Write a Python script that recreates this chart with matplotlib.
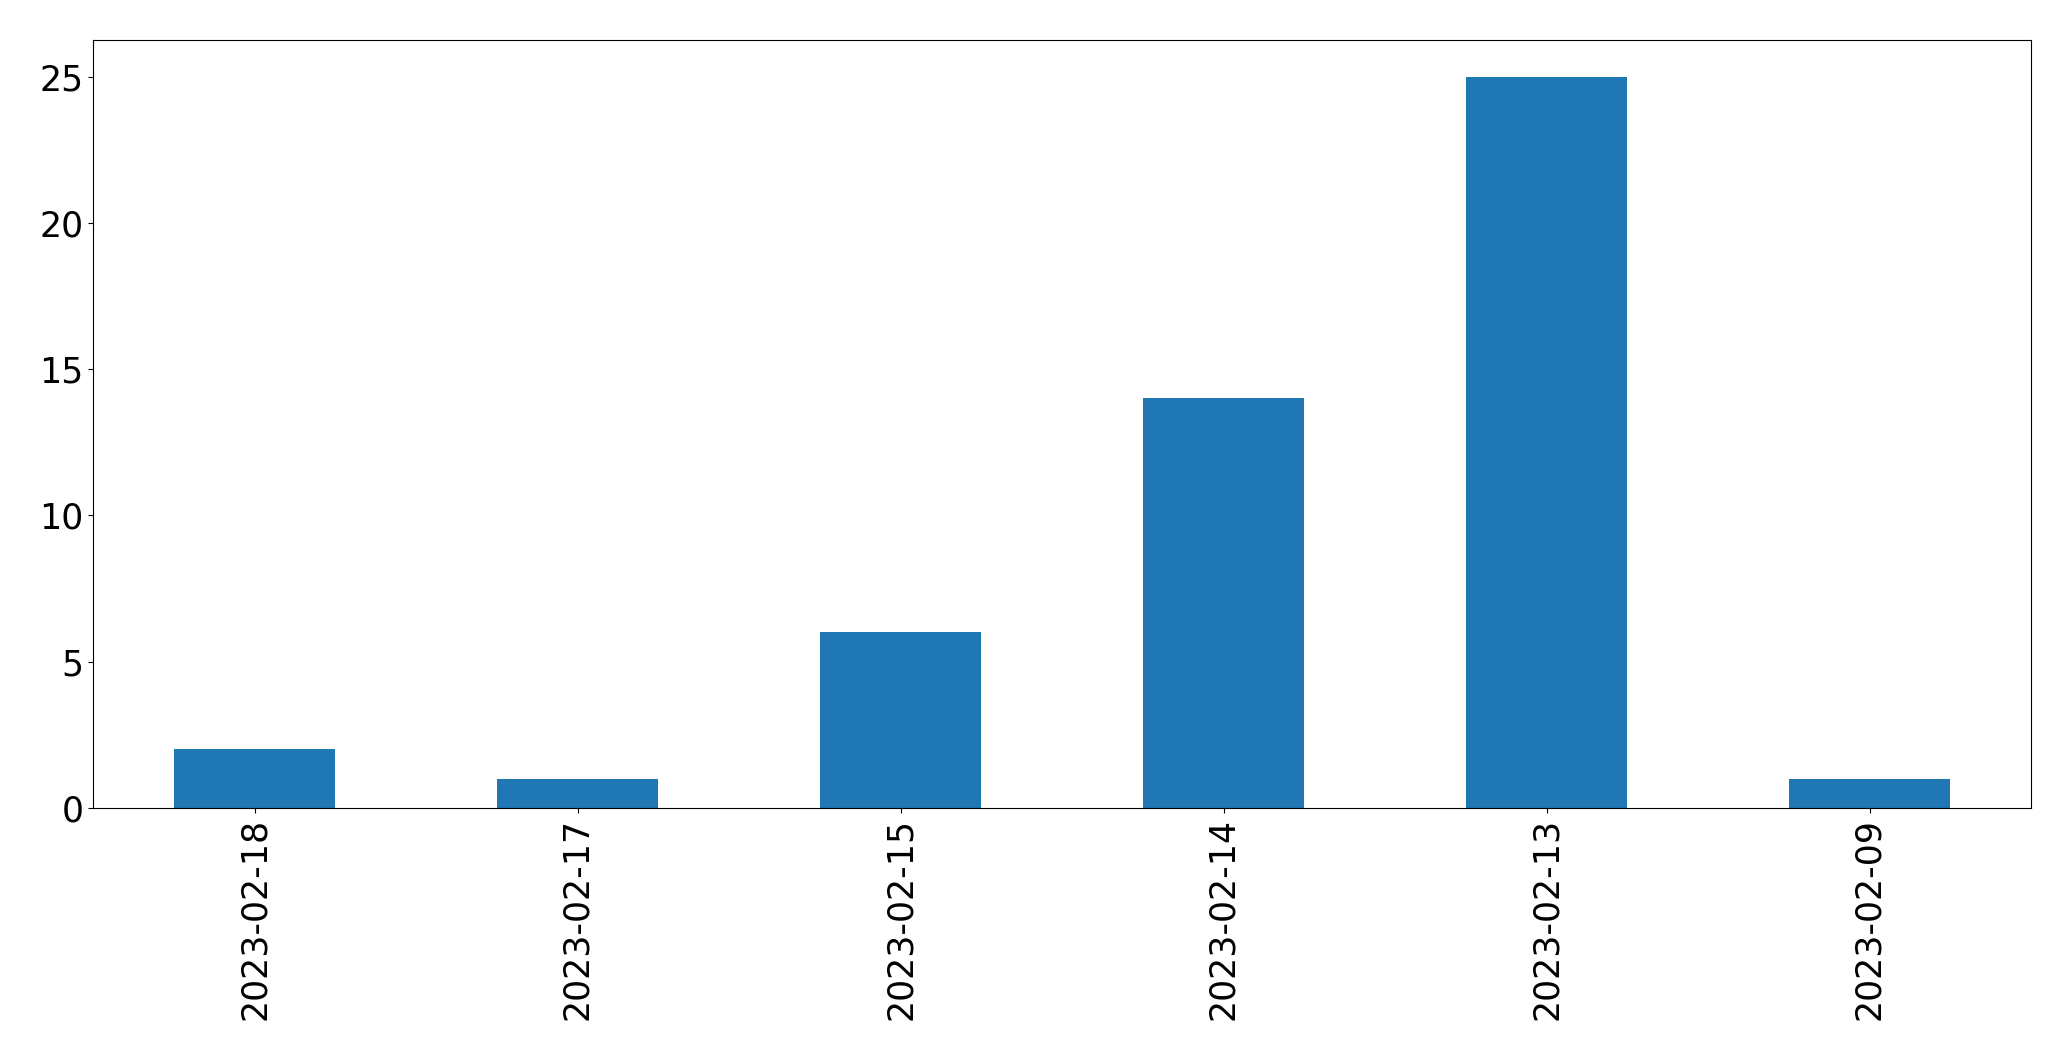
import matplotlib
matplotlib.use('Agg')
from matplotlib import pyplot as plt
import pandas as pd

dates = ["2023-02-18", "2023-02-17", "2023-02-15", "2023-02-14", "2023-02-13", "2023-02-09"]
counts = [2, 1, 6, 14, 25, 1]

s = pd.Series(counts, index=dates)

fig = plt.figure(figsize=(20.71, 10.61), dpi=100)
ax = fig.add_axes([93 / 2071, 1 - 808 / 1061, (2031 - 93) / 2071, (808 - 40) / 1061])
s.plot.bar(ax=ax, color="#1f77b4")
ax.tick_params(axis="both", labelsize=25)
fig.savefig("out.png", dpi=100)
